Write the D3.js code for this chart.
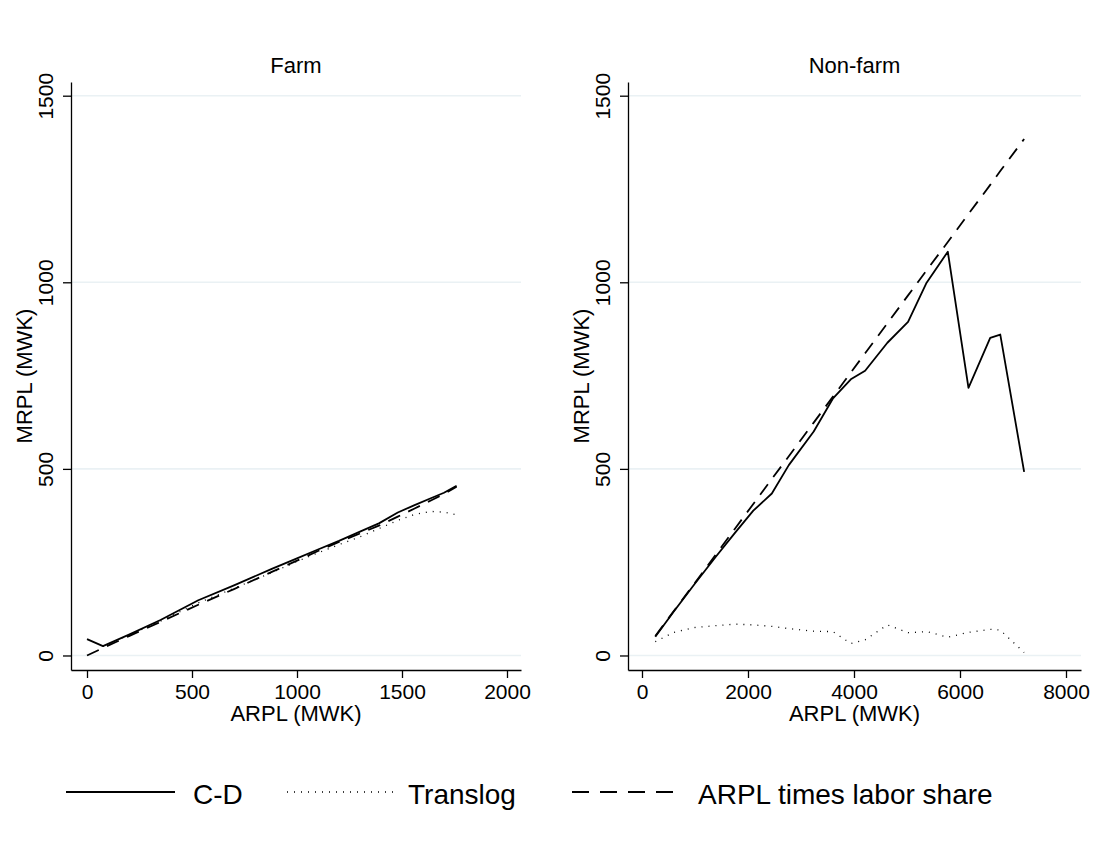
<!DOCTYPE html>
<html>
<head>
<meta charset="utf-8">
<script src="https://cdn.jsdelivr.net/npm/d3@7"></script>
<style>
	body { margin: 0; background: #fff; }
	text { font-family: "Liberation Sans", Arial, Helvetica, sans-serif; fill: #000; }
</style>
</head>
<body>
<script>
// Farm panel data (ARPL on x, MRPL on y)
const farmArpl = [0, 76, 200, 350, 530, 700, 880, 1000, 1100, 1200, 1300, 1390, 1480, 1560, 1640, 1700, 1760];
const farmCD = [44, 25, 56, 95, 148, 188, 232, 260, 284, 307, 332, 354, 383, 403, 422, 436, 455];
const farmTranslog = [null, 24, 55, 92, 141, 180, 222, 252, 275, 297, 318, 340, 362, 378, 386, 384, 377];
const farmShare = [0, 20, 52, 90, 136, 178, 224, 254, 280, 304, 327, 348, 372, 394, 416, 433, 452];

// Non-farm panel data
const nonfarmArpl = [251, 600, 1000, 1400, 1750, 2100, 2450, 2770, 3240, 3600, 3940, 4210, 4630, 5020, 5370, 5770, 6160, 6570, 6760, 7210];
const nonfarmCD = [50, 118, 193, 266, 328, 388, 434, 510, 600, 688, 740, 763, 838, 894, 999, 1082, 717, 851, 860, 492];
const nonfarmTranslog = [37, 62, 75, 80, 84, 82, 78, 72, 65, 64, 32, 42, 82, 61, 64, 49, 62, 70, 68, 8];
const nonfarmShare = [52, 119, 195, 272, 339, 406, 473, 534, 624, 693, 758, 810, 890, 965, 1032, 1108, 1183, 1261, 1298, 1384];

// Tick labels
const yTicks = [0, 500, 1000, 1500];
const farmXTicks = [0, 500, 1000, 1500, 2000];
const nonfarmXTicks = [0, 2000, 4000, 6000, 8000];

const seriesNames = ["C-D", "Translog", "ARPL times labor share"];

const w = 1112;
const h = 846;
const plotTop = 82;
const plotBottom = 670;

const styles = {
	"C-D": { width: 1.8, dash: null },
	"Translog": { width: 1.3, dash: "1,6" },
	"ARPL times labor share": { width: 1.8, dash: "13,9" },
};

const svg = d3.select("body").append("svg").attr("width", w).attr("height", h);
svg.append("rect").attr("width", w).attr("height", h).attr("fill", "#fff");

function drawPanel(opts) {
	const xScale = d3.scaleLinear().domain(opts.xDomain).range([opts.left, opts.right]);
	const yScale = d3.scaleLinear().domain([-38.9, 1536.7]).range([plotBottom, plotTop]);
	const g = svg.append("g");

	// gridlines
	g.selectAll("line.grid")
		.data(yTicks)
		.enter()
		.append("line")
		.attr("x1", opts.left)
		.attr("x2", opts.right)
		.attr("y1", (d) => yScale(d))
		.attr("y2", (d) => yScale(d))
		.attr("stroke", "#eaf1f4")
		.attr("stroke-width", 1.6);

	// y axis, labels turned upright like Stata
	const yAxis = g.append("g")
		.attr("transform", `translate(${opts.left},0)`)
		.call(d3.axisLeft(yScale).tickValues(yTicks).tickFormat(d3.format("d")).tickSize(8).tickSizeOuter(0));
	yAxis.selectAll("text")
		.attr("x", 0)
		.attr("y", 0)
		.attr("dy", 0)
		.attr("transform", "translate(-18,0) rotate(-90)")
		.attr("text-anchor", "middle")
		.style("font-size", "21px");

	// x axis
	const xAxis = g.append("g")
		.attr("transform", `translate(0,${plotBottom})`)
		.call(d3.axisBottom(xScale).tickValues(opts.xTicks).tickFormat(d3.format("d")).tickSize(8).tickSizeOuter(0));
	xAxis.selectAll("text").attr("dy", 0).attr("y", 29).style("font-size", "21px");

	svg.selectAll(".domain, .tick line").attr("stroke", "#000").attr("stroke-width", 1.3);

	// titles
	g.append("text")
		.attr("x", (opts.left + opts.right) / 2)
		.attr("y", 73)
		.attr("text-anchor", "middle")
		.style("font-size", "22px")
		.text(opts.title);
	g.append("text")
		.attr("x", (opts.left + opts.right) / 2)
		.attr("y", 721)
		.attr("text-anchor", "middle")
		.style("font-size", "22px")
		.text("ARPL (MWK)");
	g.append("text")
		.attr("transform", `translate(${opts.left - 39},${(plotTop + plotBottom) / 2}) rotate(-90)`)
		.attr("text-anchor", "middle")
		.style("font-size", "22px")
		.text("MRPL (MWK)");

	// lines
	const line = d3.line()
		.defined((d) => d[1] !== null)
		.x((d) => xScale(d[0]))
		.y((d) => yScale(d[1]));

	opts.series.forEach((vals, i) => {
		const st = styles[seriesNames[i]];
		g.append("path")
			.datum(opts.x.map((x, j) => [x, vals[j]]))
			.attr("d", line)
			.attr("fill", "none")
			.attr("stroke", "#000")
			.attr("stroke-width", st.width)
			.attr("stroke-dasharray", st.dash)
			.attr("stroke-linejoin", "round");
	});
}

drawPanel({
	title: "Farm",
	left: 71,
	right: 521,
	xDomain: [-76.2, 2066.7],
	xTicks: farmXTicks,
	x: farmArpl,
	series: [farmCD, farmTranslog, farmShare],
});

drawPanel({
	title: "Non-farm",
	left: 628,
	right: 1081,
	xDomain: [-264, 8283],
	xTicks: nonfarmXTicks,
	x: nonfarmArpl,
	series: [nonfarmCD, nonfarmTranslog, nonfarmShare],
});

// legend
const legendItems = [
	{ name: "C-D", x1: 66, x2: 175, tx: 193 },
	{ name: "Translog", x1: 287, x2: 395, tx: 408 },
	{ name: "ARPL times labor share", x1: 572, x2: 682, tx: 698 },
];
const legend = svg.append("g").attr("id", "legend");
legendItems.forEach((d) => {
	const st = styles[d.name];
	legend.append("line")
		.attr("x1", d.x1)
		.attr("x2", d.x2)
		.attr("y1", 792)
		.attr("y2", 792)
		.attr("stroke", "#000")
		.attr("stroke-width", st.width)
		.attr("stroke-dasharray", d.name === "ARPL times labor share" ? "17,11" : st.dash);
	legend.append("text")
		.attr("x", d.tx)
		.attr("y", 804)
		.style("font-size", "28px")
		.text(d.name);
});
</script>
</body>
</html>
